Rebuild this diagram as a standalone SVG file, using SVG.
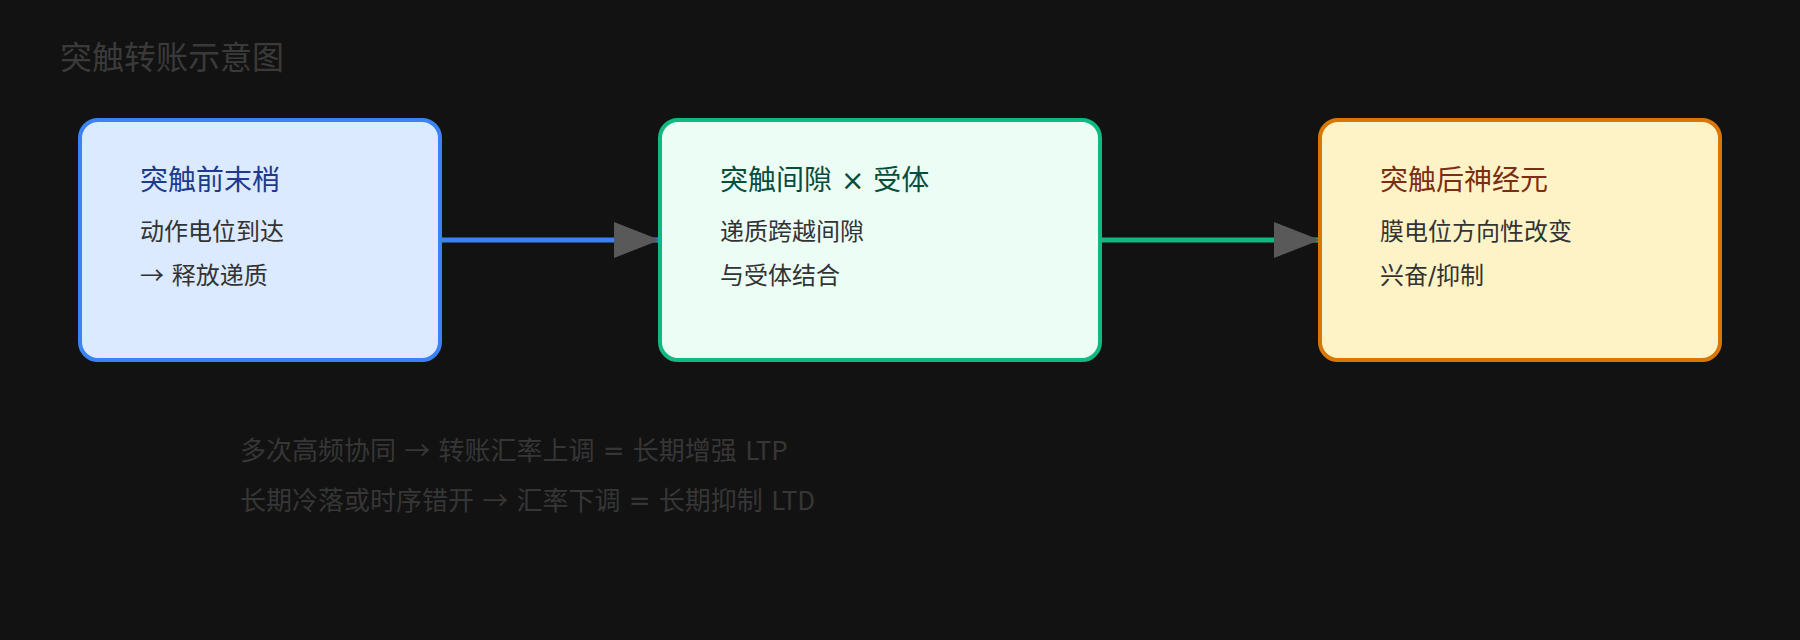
<svg xmlns="http://www.w3.org/2000/svg" width="1800" height="640" viewBox="0 0 1800 640">
  <style>
    text { font-family: "DejaVu Sans", "Noto Sans CJK SC", sans-serif; }
    .cj { font-family: "Noto Sans CJK SC", sans-serif; }
    .heading { font-size: 32px; fill: #3a3a3a; }
    .ntitle { font-size: 28px; }
    .nbody { font-size: 24px; fill: #333333; }
    .note { font-size: 26px; fill: #363636; }
    .box { stroke-width: 4; }
    .edge { fill: none; stroke-width: 5; }
  </style>
  <defs>
    <marker id="arrow" markerUnits="userSpaceOnUse" markerWidth="46" markerHeight="36" refX="46" refY="18" orient="auto">
      <path d="M0,0 L46,18 L0,36 Z" fill="#595959"/>
    </marker>
  </defs>
  <rect width="1800" height="640" fill="#121212"/>
  <text class="heading" x="60" y="69">突触转账示意图</text>

  <g id="connectors">
    <line class="edge" x1="442" y1="240" x2="660" y2="240" stroke="#3b82f6" marker-end="url(#arrow)"/>
    <line class="edge" x1="1102" y1="240" x2="1320" y2="240" stroke="#10b981" marker-end="url(#arrow)"/>
  </g>

  <g id="presynaptic">
    <rect class="box" x="80" y="120" width="360" height="240" rx="18" fill="#dbeafe" stroke="#3b82f6"/>
    <text class="ntitle" x="140" y="190" fill="#1e3a8a">突触前末梢</text>
    <text class="nbody" x="140" y="240">动作电位到达</text>
    <text class="nbody" x="140" y="284"><tspan class="cj">→</tspan> 释放递质</text>
  </g>

  <g id="cleft">
    <rect class="box" x="660" y="120" width="440" height="240" rx="18" fill="#ecfdf5" stroke="#10b981"/>
    <text class="ntitle" x="720" y="190" fill="#064e3b">突触间隙 × 受体</text>
    <text class="nbody" x="720" y="240">递质跨越间隙</text>
    <text class="nbody" x="720" y="284">与受体结合</text>
  </g>

  <g id="postsynaptic">
    <rect class="box" x="1320" y="120" width="400" height="240" rx="18" fill="#fef3c7" stroke="#d97706"/>
    <text class="ntitle" x="1380" y="190" fill="#7c2d12">突触后神经元</text>
    <text class="nbody" x="1380" y="240">膜电位方向性改变</text>
    <text class="nbody" x="1380" y="284">兴奋/抑制</text>
  </g>

  <g id="notes">
    <text class="note" x="240" y="460">多次高频协同 <tspan class="cj">→</tspan> 转账汇率上调 = 长期增强 <tspan class="cj">LTP</tspan></text>
    <text class="note" x="240" y="510">长期冷落或时序错开 <tspan class="cj">→</tspan> 汇率下调 = 长期抑制 <tspan class="cj">LTD</tspan></text>
  </g>
</svg>
